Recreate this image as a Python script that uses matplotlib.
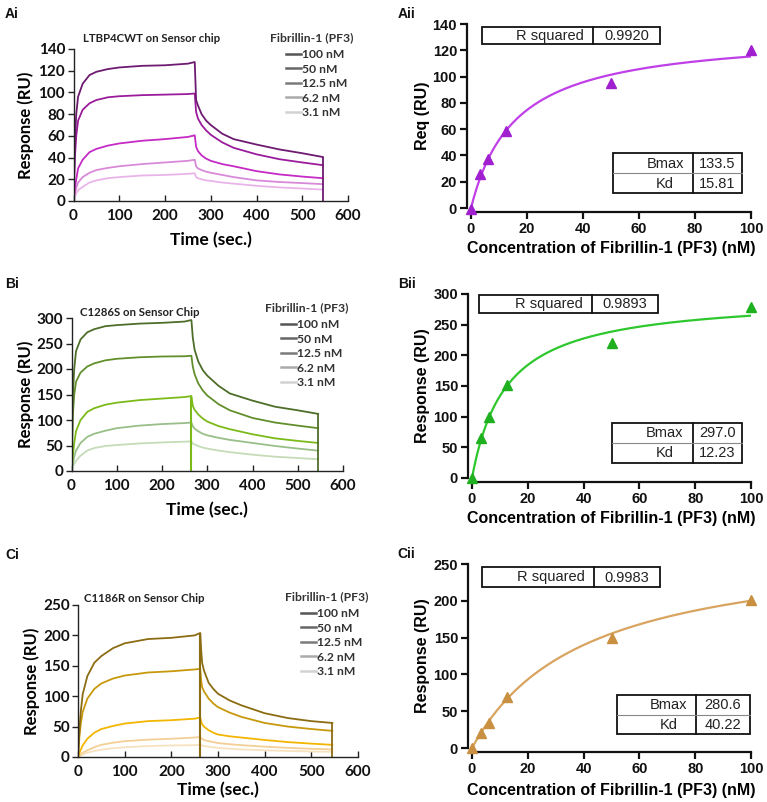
import numpy as np
import matplotlib
matplotlib.use('Agg')
import matplotlib.pyplot as plt
from matplotlib.lines import Line2D
from matplotlib.patches import Rectangle

W, H = 767, 802

# ---------------- data ----------------
conc_labels = ['100 nM', '50 nM', '12.5 nM', '6.2 nM', '3.1 nM']
legend_grays = ['#555555', '#666666', '#7a7a7a', '#aaaaaa', '#d2d2d2']

# Panel Ai sensorgram (time in s, response in RU)
tA = [0, 3, 6, 10, 20, 35, 50, 75, 100, 150, 200, 250, 265,
      268, 272, 280, 290, 300, 325, 350, 400, 450, 500, 545]
A_100 = [0, 55, 80, 96, 108, 116, 119, 121.5, 123, 124.5, 125, 126.5, 128,
         93, 88, 80, 74, 70, 62, 57, 52, 47.5, 44, 40.5]
A_50 = [0, 40, 60, 74, 84, 90, 93, 95.5, 96.5, 97.5, 98, 98.5, 99,
        82, 76, 70, 65, 61, 54, 49, 43, 38.5, 35.5, 33]
A_125 = [0, 12, 20, 30, 38, 45, 48, 51, 53, 55.5, 57, 59, 60.5,
         50, 46, 42, 39, 37, 34, 32, 27.5, 24.5, 22.5, 21]
A_62 = [0, 7, 12, 17, 22, 26, 28.5, 30.5, 32, 34, 35.5, 37, 38,
        32, 30, 28.5, 27, 26, 24, 22, 19, 17.5, 16.5, 15.5]
A_31 = [0, 4, 7, 10, 13, 17, 19, 21, 22, 23.5, 24, 25, 25.5,
        22, 21, 20, 19, 18.5, 17, 16, 14, 12.5, 11.5, 10.5]

# Panel Bi sensorgram
tB = [0, 3, 6, 10, 20, 35, 50, 75, 100, 150, 200, 250, 265,
      268, 272, 280, 290, 300, 325, 350, 400, 450, 500, 545]
B_100 = [0, 150, 200, 235, 258, 272, 278, 284, 286, 289, 290.5, 293, 296,
         262, 238, 215, 198, 187, 167, 152, 138, 126, 119, 112]
B_50 = [0, 110, 150, 175, 193, 205, 211, 217, 220, 223, 224.5, 225, 226,
        205, 190, 172, 158, 148, 131, 119, 104, 95, 89, 84]
B_125 = [0, 30, 55, 78, 100, 116, 123, 130, 134, 139, 142, 145, 147,
         128, 120, 111, 103, 97, 88, 82, 72, 64, 59, 55]
B_62 = [0, 15, 28, 40, 55, 67, 73, 79, 84, 89, 92, 94, 95,
        88, 83, 78, 73, 70, 65, 61, 55, 49, 44, 40]
B_31 = [0, 7, 14, 20, 30, 40, 45, 49, 51, 54, 56, 57.5, 58,
        54, 52, 49, 46, 44, 40, 37, 32, 28, 25.5, 23]

# Panel Ci sensorgram
tC = [0, 3, 6, 10, 20, 35, 50, 75, 100, 150, 200, 250, 262,
      264, 266, 270, 280, 290, 300, 325, 350, 400, 450, 500, 545]
C_100 = [0, 45, 75, 103, 133, 155, 166, 179, 187, 194, 196, 200, 204,
         175, 155, 142, 122, 112, 104, 93, 85, 72, 64, 59, 56]
C_50 = [0, 33, 55, 74, 96, 112, 121, 129, 134, 139, 141, 144, 145,
        125, 115, 108, 96, 88, 82, 73, 66, 56, 50, 46, 43]
C_125 = [0, 6, 12, 19, 30, 40, 46, 51, 55, 59, 60.5, 63, 65,
         58, 54, 50, 44, 40, 37, 34, 32, 28, 24.5, 22, 20]
C_62 = [0, 2, 4, 7, 11, 16, 20, 23.5, 26, 28.5, 30, 32, 33,
        31, 30, 28, 26, 24.5, 23, 21, 19.5, 17, 15, 13.5, 12.5]
C_31 = [0, 1, 2.5, 4, 7, 10, 12, 14.5, 16, 18, 19, 19.5, 20,
        19.5, 19, 18, 17, 16, 15, 13.5, 12.5, 11, 10, 9, 8.5]

# injection-end artefact spikes (time, series index)
B_spike_time, B_spike_idx = 265, 2
C_spike_time, C_spike_idx = 262, 0

# Equilibrium binding (ii panels)
conc = [0, 3.1, 6.2, 12.5, 50, 100]
A_req = [-0.5, 25.8, 37.5, 58.7, 95, 120]
B_resp = [0, 65, 100, 152, 220, 278]
C_resp = [0, 20.4, 34, 68.8, 149.5, 201.5]
A_fit = {'R squared': '0.9920', 'Bmax': 133.5, 'Kd': 15.81}
B_fit = {'R squared': '0.9893', 'Bmax': 297.0, 'Kd': 12.23}
C_fit = {'R squared': '0.9983', 'Bmax': 280.6, 'Kd': 40.22}

# ---------------- figure ----------------
fig = plt.figure(figsize=(W / 100, H / 100), dpi=100)

FONT_I = 'Lato'
FONT_II = 'Liberation Sans'


def fx(x):
    return x / W


def fy(y):
    return 1 - y / H


def add_ax(left, top, right, bottom):
    return fig.add_axes([left / W, 1 - bottom / H, (right - left) / W, (bottom - top) / H])


def sensor_panel(box, t, series, colors, ylim, ystep, title, title_xy,
                 leg_xy, ylab_x, xlab_y, spike=None):
    ax = add_ax(*box)
    for vals, c in zip(series[::-1], colors[::-1]):
        ax.plot(t, vals, color=c, lw=1.3, solid_joinstyle='round')
    # vertical drop at end of run
    ax.vlines(t[-1], 0, series[0][-1], color=colors[0], lw=1.3)
    if spike is not None:
        st, si = spike
        k = t.index(st)
        ax.vlines(st, 0, series[si][k], color=colors[si], lw=1.5)
    ax.set_xlim(0, 600)
    ax.set_ylim(0, ylim)
    ax.set_xticks(np.arange(0, 601, 100))
    ax.set_yticks(np.arange(0, ylim + 1, ystep))
    for s in ['top', 'right']:
        ax.spines[s].set_visible(False)
    for s in ['left', 'bottom']:
        ax.spines[s].set_color('#222222')
        ax.spines[s].set_linewidth(1.0)
    ax.tick_params(axis='x', direction='in', length=4, width=1.0, color='#222222', pad=6)
    ax.tick_params(axis='y', direction='out', length=4, width=1.0, color='#222222', pad=2)
    for lab in ax.get_xticklabels() + ax.get_yticklabels():
        lab.set_fontfamily(FONT_I)
        lab.set_fontweight('bold')
        lab.set_fontsize(11)
        lab.set_color('#111111')
    ax.set_ylabel('Response (RU)', fontfamily=FONT_I, fontweight='bold', fontsize=12)
    ax.set_xlabel('Time (sec.)', fontfamily=FONT_I, fontweight='bold', fontsize=12.5)
    bb = box
    ax.yaxis.set_label_coords((ylab_x - bb[0]) / (bb[2] - bb[0]), 0.5)
    ax.xaxis.set_label_coords(0.5, (bb[3] - xlab_y) / (bb[3] - bb[1]))
    ax.xaxis.label.set_va('center')
    ax.yaxis.label.set_va('center')
    fig.text(fx(title_xy[0]), fy(title_xy[1]), title, fontfamily=FONT_I, fontweight='bold',
             fontsize=8.2, color='#222222', ha='center', va='center')
    handles = [Line2D([0], [0], color=g, lw=1.8) for g in legend_grays]
    fig.text(fx(leg_xy[0]), fy(leg_xy[1]), 'Fibrillin-1 (PF3)', fontfamily=FONT_I,
             fontweight='bold', fontsize=8.7, color='#333333', ha='left', va='center')
    leg = ax.legend(handles, conc_labels, loc='upper left',
                    bbox_to_anchor=(fx(leg_xy[0] + 16), fy(leg_xy[1] + 11)),
                    bbox_transform=fig.transFigure, frameon=False,
                    handlelength=1.2, handletextpad=0.1, labelspacing=0.29,
                    borderpad=0, borderaxespad=0,
                    prop={'family': FONT_I, 'weight': 'bold', 'size': 8.7})
    for txt in leg.get_texts():
        txt.set_color('#333333')
    return ax


def binding_panel(box, x, y, fit, color_line, color_mark, ylim, ystep, ylabel,
                  ylab_x, xlab_y, rbox, bbox_):
    ax = add_ax(*box)
    xs = np.linspace(0, 100, 300)
    ax.plot(xs, fit['Bmax'] * xs / (fit['Kd'] + xs), color=color_line, lw=1.6, zorder=2)
    ax.plot(x, y, linestyle='none', marker='^', ms=6.5, color=color_mark, zorder=3,
            clip_on=False)
    ax.set_xlim(0, 100)
    ax.set_ylim(0, ylim)
    ax.set_xticks(np.arange(0, 101, 20))
    ax.set_yticks(np.arange(0, ylim + 1, ystep))
    for s in ['top', 'right']:
        ax.spines[s].set_visible(False)
    for s in ['left', 'bottom']:
        ax.spines[s].set_position(('outward', 3))
        ax.spines[s].set_linewidth(1.6)
        ax.spines[s].set_color('#111111')
    ax.tick_params(direction='out', length=5, width=1.6, color='#111111', pad=2)
    for lab in ax.get_xticklabels() + ax.get_yticklabels():
        lab.set_fontfamily(FONT_II)
        lab.set_fontweight('bold')
        lab.set_fontsize(10.5)
        lab.set_color('#111111')
    ax.set_ylabel(ylabel, fontfamily=FONT_II, fontweight='bold', fontsize=11.5)
    ax.set_xlabel('Concentration of Fibrillin-1 (PF3) (nM)', fontfamily=FONT_II,
                  fontweight='bold', fontsize=11.5)
    ax.yaxis.set_label_coords((ylab_x - box[0]) / (box[2] - box[0]), 0.5)
    ax.xaxis.set_label_coords(0.5, (box[3] - xlab_y) / (box[3] - box[1]))
    ax.xaxis.label.set_va('center')
    ax.yaxis.label.set_va('center')

    # R squared table
    x0, x1, xd, y0, y1 = rbox
    fig.add_artist(Rectangle((fx(x0), fy(y1)), fx(x1 - x0), (y1 - y0) / H,
                             transform=fig.transFigure, fill=False, lw=1.3, ec='#111111'))
    fig.add_artist(Line2D([fx(xd), fx(xd)], [fy(y0), fy(y1)], transform=fig.transFigure,
                          lw=1.3, color='#111111'))
    fig.text(fx(xd - 9), fy((y0 + y1) / 2 + 0.5), 'R squared', fontfamily=FONT_II, fontsize=10.5,
             ha='right', va='center', color='#222222')
    fig.text(fx((xd + x1) / 2), fy((y0 + y1) / 2 + 0.5), fit['R squared'], fontfamily=FONT_II,
             fontsize=10.5, ha='center', va='center', color='#222222')
    # Bmax / Kd table
    x0, x1, xd, y0, y1 = bbox_
    ym = (y0 + y1) / 2
    fig.add_artist(Rectangle((fx(x0), fy(y1)), fx(x1 - x0), (y1 - y0) / H,
                             transform=fig.transFigure, fill=False, lw=1.3, ec='#111111'))
    fig.add_artist(Line2D([fx(xd), fx(xd)], [fy(y0), fy(y1)], transform=fig.transFigure,
                          lw=1.3, color='#111111'))
    fig.add_artist(Line2D([fx(x0), fx(x1)], [fy(ym), fy(ym)], transform=fig.transFigure,
                          lw=0.8, color='#888888'))
    for name, yy in [('Bmax', (y0 + ym) / 2), ('Kd', (ym + y1) / 2)]:
        val = fit[name]
        fig.text(fx((x0 + xd) / 2 + 12), fy(yy + 0.5), name, fontfamily=FONT_II, fontsize=10.5,
                 ha='center', va='center', color='#222222')
        fig.text(fx((xd + x1) / 2), fy(yy + 0.5), f'{val:.1f}' if name == 'Bmax' else f'{val:.2f}',
                 fontfamily=FONT_II, fontsize=10.5, ha='center', va='center', color='#222222')
    return ax


colsA = ['#6d1a70', '#9a1c9c', '#c52ac5', '#d88ad8', '#e9b5e9']
colsB = ['#4e6e2a', '#628f2c', '#7cba1a', '#98bf88', '#c5dcb8']
colsC = ['#8c6c12', '#c8980c', '#f2b600', '#f3cf95', '#f7e2c0']

sensor_panel((73.5, 49, 348, 201), tA, [A_100, A_50, A_125, A_62, A_31], colsA, 140, 20,
             'LTBP4CWT on Sensor chip', (152, 38), (270, 38), 26, 240)
sensor_panel((71.5, 318, 343, 471), tB, [B_100, B_50, B_125, B_62, B_31], colsB, 300, 50,
             'C1286S on Sensor Chip', (140, 313), (265, 308), 26, 510,
             spike=(B_spike_time, B_spike_idx))
sensor_panel((78, 605, 358, 757), tC, [C_100, C_50, C_125, C_62, C_31], colsC, 250, 50,
             'C1186R on Sensor Chip', (144, 598), (285, 597), 32, 790,
             spike=(C_spike_time, C_spike_idx))

binding_panel((471, 24, 751, 208), conc, A_req, A_fit, '#c040e8', '#a020d0', 140, 20,
              'Req (RU)', 423, 248, (482, 660, 593, 27, 44), (613, 742, 693, 153, 193))
binding_panel((472, 294, 751, 478), conc, B_resp, B_fit, '#2ec82e', '#1fb01f', 300, 50,
              'Response (RU)', 422, 518, (479, 658, 592, 295, 313), (612, 742, 693, 423, 463))
binding_panel((472, 564, 751, 748), conc, C_resp, C_fit, '#d8a460', '#c89040', 250, 50,
              'Response (RU)', 422, 790, (482, 660, 594, 567, 587), (617, 750, 696, 695, 734))

for lab, (x, y) in {'Ai': (5, 14), 'Aii': (398, 14), 'Bi': (5, 284), 'Bii': (398, 284),
                    'Ci': (5, 555), 'Cii': (397, 554)}.items():
    fig.text(fx(x), fy(y), lab, fontfamily=FONT_II, fontweight='bold', fontsize=10,
             ha='left', va='center', color='#111111')

fig.savefig('out.png', dpi=100)
